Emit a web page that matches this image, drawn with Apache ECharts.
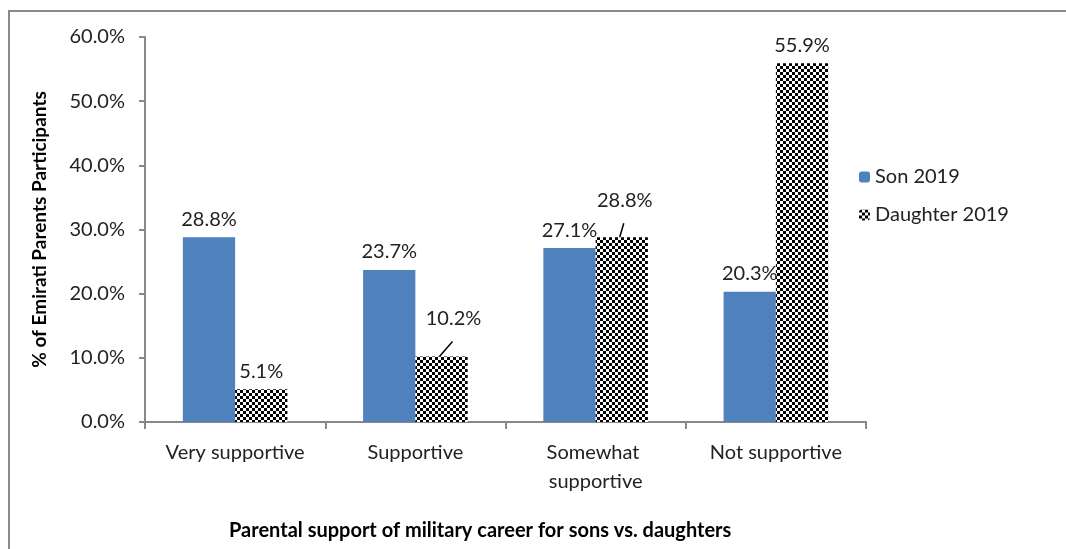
<!DOCTYPE html>
<html>
<head>
<meta charset="utf-8">
<script src="https://cdn.jsdelivr.net/npm/echarts@6/dist/echarts.min.js"></script>
<style>html,body{margin:0;padding:0;background:#fff;}#c{width:1066px;height:549px;}</style>
</head>
<body>
<div id="c"></div>
<script>
const categories = ['Very supportive', 'Supportive', 'Somewhat supportive', 'Not supportive'];
const sonValues = [28.8, 23.7, 27.1, 20.3];
const daughterValues = [5.1, 10.2, 28.8, 55.9];
const seriesNames = ['Son 2019', 'Daughter 2019'];
const yTicks = [0, 10, 20, 30, 40, 50, 60];

const FONT = 'Lato';
const GAP = 0.42;
const pat = document.createElement('canvas');
pat.width = 6; pat.height = 6;
const ctx = pat.getContext('2d');
ctx.fillStyle = '#fff'; ctx.fillRect(0, 0, 6, 6);
ctx.fillStyle = '#000'; ctx.fillRect(0, 0, 3, 3); ctx.fillRect(3, 3, 3, 3);

// labels of the daughter series that are pulled away from their bar (label offset in px)
const moved = {1: {dx: 12, dy: -20}, 2: {dx: 3, dy: -19}};
const leaderData = Object.keys(moved).map(i => [Number(i), daughterValues[i]]);

const chart = echarts.init(document.getElementById('c'), null, {renderer: 'canvas'});
chart.setOption({
  animation: false,
  backgroundColor: '#fff',
  textStyle: {fontFamily: FONT},
  graphic: [
    {type: 'rect', shape: {x: 9, y: 11, width: 1200, height: 700}, style: {fill: 'none', stroke: '#8a8a8a', lineWidth: 2}, silent: true},
    {type: 'text', left: 229, top: 521, style: {text: 'Parental support of military career for sons vs. daughters', font: 'bold 20px ' + FONT, fill: '#000'}}
  ],
  legend: {
    orient: 'vertical', left: 854, top: 162, itemWidth: 11, itemHeight: 11, itemGap: 18,
    textStyle: {fontSize: 20, color: '#222', fontFamily: FONT},
    data: seriesNames
  },
  grid: {left: 145, right: 200, top: 37, bottom: 127},
  xAxis: {
    type: 'category', data: categories,
    axisLine: {lineStyle: {color: '#888', width: 2}},
    axisTick: {show: true, length: 7, alignWithLabel: false, lineStyle: {color: '#888', width: 2}},
    axisLabel: {color: '#222', fontSize: 20, margin: 16, width: 165, overflow: 'break', lineHeight: 29, interval: 0}
  },
  yAxis: {
    type: 'value', min: yTicks[0], max: yTicks[yTicks.length - 1], interval: 10,
    name: '% of Emirati Parents Participants', nameLocation: 'middle', nameGap: 96, nameRotate: 90,
    nameTextStyle: {fontSize: 19, fontWeight: 'bold', color: '#000'},
    splitLine: {show: false},
    axisLine: {show: true, lineStyle: {color: '#888', width: 2}},
    axisTick: {show: true, length: 6, lineStyle: {color: '#888', width: 2}},
    axisLabel: {color: '#222', fontSize: 20, margin: 20, formatter: v => v.toFixed(1) + '%'}
  },
  series: [
    {
      name: seriesNames[0], type: 'bar', data: sonValues, barCategoryGap: (GAP * 100) + '%', barGap: '0%',
      itemStyle: {color: '#4f81bd'},
      label: {show: true, position: 'top', distance: 8, fontSize: 20, color: '#222', formatter: p => p.value.toFixed(1) + '%'}
    },
    {
      name: seriesNames[1], type: 'bar', data: daughterValues, barCategoryGap: (GAP * 100) + '%', barGap: '0%',
      itemStyle: {color: {image: pat, repeat: 'repeat'}},
      label: {show: true, position: 'top', distance: 8, fontSize: 20, color: '#222', formatter: p => p.value.toFixed(1) + '%'},
      labelLayout: p => moved[p.dataIndex] || {}
    },
    {
      type: 'custom', name: 'leader', data: leaderData, silent: true, z: 5,
      renderItem: (params, api) => {
        const idx = api.value(0);
        const m = moved[idx];
        const top = api.coord([idx, api.value(1)]);
        const band = api.size([1, 0])[0];
        const barW = band * (1 - GAP) / 2;
        return {
          type: 'line',
          shape: {
            x1: top[0] + barW * 0.46, y1: top[1],
            x2: top[0] + barW / 2 + m.dx - 1, y2: top[1] + m.dy + 5
          },
          style: {stroke: '#000', lineWidth: 1.5}
        };
      }
    }
  ]
});
</script>
</body>
</html>
